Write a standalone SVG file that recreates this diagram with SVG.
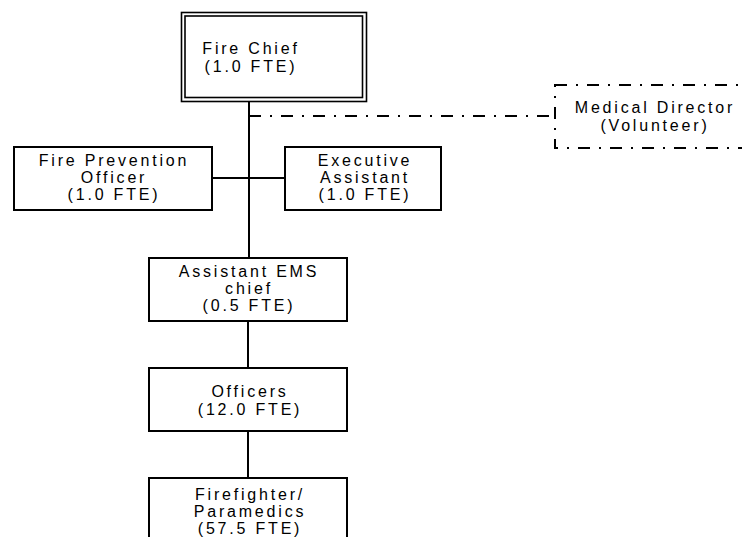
<svg xmlns="http://www.w3.org/2000/svg" width="742" height="537" viewBox="0 0 742 537">
<style>
.box{fill:#fff;stroke:#000;stroke-width:2}
.thin{fill:none;stroke:#000;stroke-width:1.6}
.dd{fill:none;stroke:#000;stroke-width:2;stroke-dasharray:12 9 2 9}
.ln{fill:none;stroke:#000;stroke-width:2}
text{font-family:"Liberation Sans",Arial,sans-serif;font-size:16px;letter-spacing:2.8px;text-anchor:middle;fill:#000}
</style>
<rect width="742" height="537" fill="#fff"/>
<g id="connectors">
<line class="ln" x1="249" y1="101" x2="249" y2="258"/>
<line class="ln" x1="212" y1="178" x2="285" y2="178"/>
<line class="dd" x1="249" y1="116" x2="555" y2="116"/>
<line class="ln" x1="248" y1="321" x2="248" y2="368"/>
<line class="ln" x1="248" y1="431" x2="248" y2="478"/>
</g>
<g id="fire-chief">
<rect class="thin" x="181.5" y="12.5" width="185" height="89"/>
<rect class="thin" x="185" y="16" width="177.5" height="81.5"/>
<text x="251" y="54">Fire Chief</text>
<text x="251" y="72">(1.0 FTE)</text>
</g>
<g id="medical-director">
<rect class="dd" x="555" y="85" width="210" height="63" fill="#fff"/>
<text x="655" y="113">Medical Director</text>
<text x="655" y="131">(Volunteer)</text>
</g>
<g id="fire-prevention">
<rect class="box" x="14" y="147" width="198" height="63"/>
<text x="114" y="166">Fire Prevention</text>
<text x="114" y="183">Officer</text>
<text x="114" y="200">(1.0 FTE)</text>
</g>
<g id="executive-assistant">
<rect class="box" x="285" y="147" width="156" height="63"/>
<text x="365" y="166">Executive</text>
<text x="365" y="183">Assistant</text>
<text x="365" y="200">(1.0 FTE)</text>
</g>
<g id="assistant-ems">
<rect class="box" x="149" y="258" width="198" height="63"/>
<text x="249" y="277">Assistant EMS</text>
<text x="249" y="294">chief</text>
<text x="249" y="311">(0.5 FTE)</text>
</g>
<g id="officers">
<rect class="box" x="149" y="368" width="198" height="63"/>
<text x="250" y="397">Officers</text>
<text x="250" y="415">(12.0 FTE)</text>
</g>
<g id="firefighters">
<rect class="box" x="149" y="478" width="198" height="70"/>
<text x="250" y="500">Firefighter/</text>
<text x="250" y="517">Paramedics</text>
<text x="250" y="534">(57.5 FTE)</text>
</g>
</svg>
